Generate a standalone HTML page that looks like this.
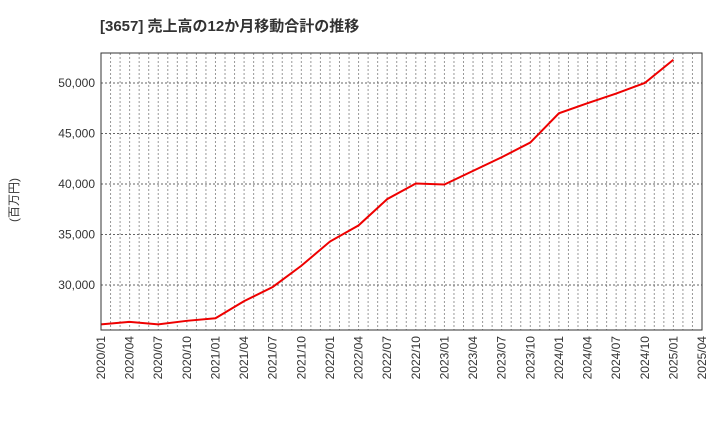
<!DOCTYPE html>
<html><head><meta charset="utf-8"><style>
body{margin:0;background:#fff;font-family:"Liberation Sans","Noto Sans CJK JP",sans-serif}
</style></head><body>
<svg id="c" width="720" height="440" xmlns="http://www.w3.org/2000/svg">
<text x="100" y="31" font-size="15" font-weight="bold" fill="#333" font-family="Liberation Sans,Noto Sans CJK JP,sans-serif">[3657]  売上高の12か月移動合計の推移</text>
<text transform="translate(18,200) rotate(-90)" font-size="12" fill="#333" text-anchor="middle" font-family="Liberation Sans,Noto Sans CJK JP,sans-serif">(百万円)</text>
<g id="grid"></g><g id="axes"></g><g id="series"></g>
<rect x="101" y="53" width="601" height="277" fill="none" stroke="#333" stroke-width="1"/>
</svg>
<script>
const categories=["2020/01","2020/04","2020/07","2020/10","2021/01","2021/04","2021/07","2021/10","2022/01","2022/04","2022/07","2022/10","2023/01","2023/04","2023/07","2023/10","2024/01","2024/04","2024/07","2024/10","2025/01"];
const values=[26100,26350,26100,26450,26700,28400,29800,31900,34300,35900,38500,40050,39950,41300,42650,44100,47000,48000,48950,50000,52300];
const xTickLabels=["2020/01","2020/04","2020/07","2020/10","2021/01","2021/04","2021/07","2021/10","2022/01","2022/04","2022/07","2022/10","2023/01","2023/04","2023/07","2023/10","2024/01","2024/04","2024/07","2024/10","2025/01","2025/04"];
const yTicks=[30000,35000,40000,45000,50000];
const NS="http://www.w3.org/2000/svg";
const L=101,R=702,T=53,B=330,yMin=25540,yMax=52970;
const x=i=>L+(R-L)*i/21;
const y=v=>B-(v-yMin)/(yMax-yMin)*(B-T);
function mk(t,a,p){const e=document.createElementNS(NS,t);for(const k in a)e.setAttribute(k,a[k]);p.appendChild(e);return e;}
const g=document.getElementById('grid'),ax=document.getElementById('axes'),s=document.getElementById('series');
for(let m=1;m<63;m++){const xx=L+(R-L)*m/63;
const ln=mk('line',{x1:xx,x2:xx,y1:T,y2:B,stroke:'#999','stroke-dasharray':'2,2','stroke-width':1},g);

}
yTicks.forEach(v=>{const ln=mk('line',{x1:L,x2:R,y1:y(v),y2:y(v),stroke:'#666','stroke-dasharray':'2,2','stroke-width':1},g);


const t=mk('text',{x:L-6,y:y(v)+4,'text-anchor':'end','font-size':12,fill:'#333'},ax);t.textContent=v.toLocaleString('en-US');

});
xTickLabels.forEach((lab,i)=>{const t=mk('text',{transform:`translate(${x(i)+4},${B+6}) rotate(-90)`,'text-anchor':'end','font-size':12,fill:'#333'},ax);t.textContent=lab;

});
const pl=mk('polyline',{points:values.map((v,i)=>x(i)+','+y(v)).join(' '),fill:'none',stroke:'#e00',"stroke-width":2},s);


</script>
</body></html>
